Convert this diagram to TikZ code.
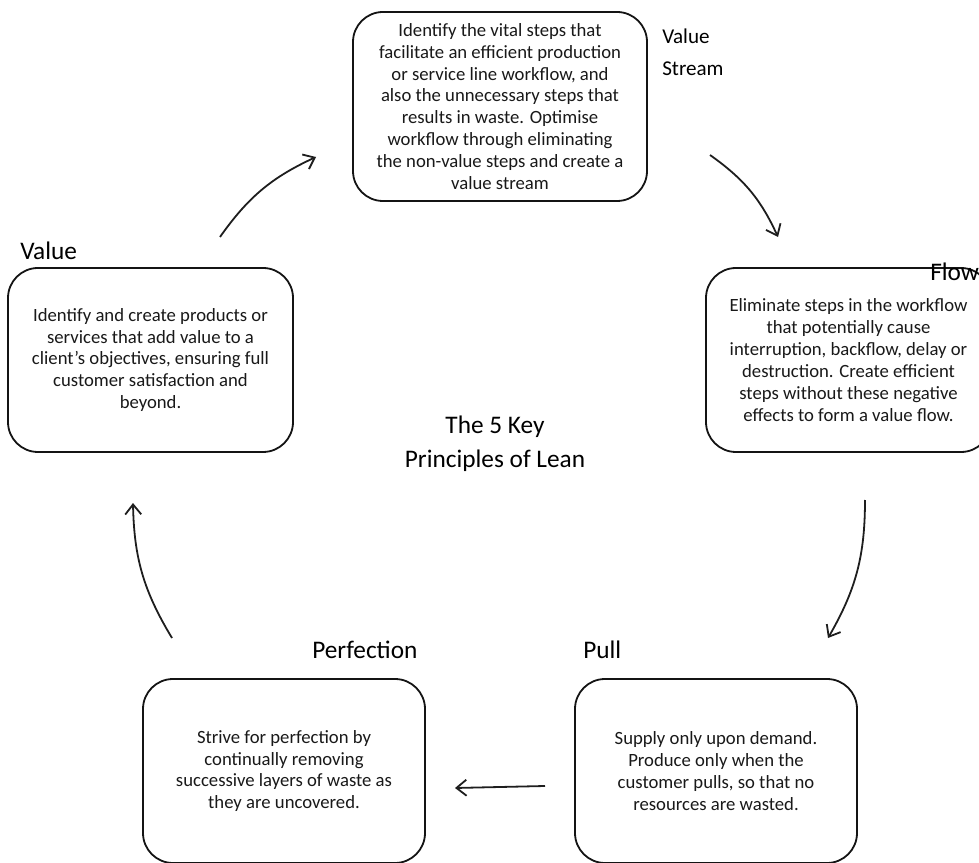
\documentclass[tikz,border=0pt]{standalone}
\usepackage{fontspec}
\setmainfont{Carlito}
\usetikzlibrary{arrows.meta}

\begin{document}
\begin{tikzpicture}
\definecolor{box_line_color}{RGB}{20,20,20}
\definecolor{box_text_color}{RGB}{25,25,25}
\definecolor{arrow_color}{RGB}{30,30,30}

\tikzset{
  principle_box/.style={draw=box_line_color, line width=0.045cm, rounded corners=0.75cm, fill=white,
    align=center, text=box_text_color, font=\fontsize{13.3}{15.6}\selectfont, inner sep=0pt},
  principle_label/.style={anchor=west, inner sep=0pt, text=black, font=\fontsize{18}{24}\selectfont},
  cycle_arrow/.style={draw=arrow_color, line width=0.045cm, -{Straight Barb[length=0.25cm, width=0.4cm]}, bend left=15}
}

\useasboundingbox (0,0) rectangle (24.475,21.55);
\clip (0,0) rectangle (24.475,21.55);

% boxes
\node[principle_box, minimum width=7.35cm, minimum height=4.725cm] (stream) at (12.5,18.8875)
  {Identify the vital steps that\\facilitate an efficient production\\or service line workflow, and\\also the unnecessary steps that\\results in waste. Optimise\\workflow through eliminating\\the non-value steps and create a\\value stream};
\node[principle_box, minimum width=7.125cm, minimum height=4.6cm] (value) at (3.7625,12.55)
  {Identify and create products or\\services that add value to a\\client’s objectives, ensuring full\\customer satisfaction and\\beyond.};
\node[principle_box, minimum width=7.125cm, minimum height=4.6cm] (flow) at (21.2125,12.55)
  {Eliminate steps in the workflow\\that potentially cause\\interruption, backflow, delay or\\destruction. Create efficient\\steps without these negative\\effects to form a value flow.};
\node[principle_box, minimum width=7.05cm, minimum height=4.6cm] (perfection) at (7.1,2.275)
  {Strive for perfection by\\continually removing\\successive layers of waste as\\they are uncovered.};
\node[principle_box, minimum width=7.05cm, minimum height=4.6cm] (pull) at (17.9,2.275)
  {Supply only upon demand.\\Produce only when the\\customer pulls, so that no\\resources are wasted.};

% labels
\node[principle_label, align=left, font=\fontsize{15}{22.5}\selectfont] (stream_label) at (16.55,20.25) {Value\\Stream};
\node[principle_label] (flow_label) at (23.25,14.75) {Flow};
\node[principle_label] (value_label) at (0.5,15.275) {Value};
\node[principle_label] (perfection_label) at (7.8,5.3) {Perfection};
\node[principle_label] (pull_label) at (14.575,5.3) {Pull};
\node[align=center, inner sep=0pt, font=\fontsize{18}{24}\selectfont] (title) at (12.375,10.45) {The 5 Key\\Principles of Lean};

% arrow ends
\coordinate (value_out) at (5.5,15.625);
\coordinate (stream_in) at (7.9,17.625);
\coordinate (stream_out) at (17.75,17.675);
\coordinate (flow_in) at (19.45,15.625);
\coordinate (flow_out) at (21.625,9.05);
\coordinate (pull_in) at (20.7,5.6);
\coordinate (pull_out) at (13.625,1.9);
\coordinate (perfection_in) at (11.375,1.85);
\coordinate (perfection_out) at (4.3,5.6);
\coordinate (value_in) at (3.325,8.975);

\draw[cycle_arrow] (value_out) to (stream_in);
\draw[cycle_arrow] (stream_out) to (flow_in);
\draw[cycle_arrow] (flow_out) to (pull_in);
\draw[cycle_arrow, bend left=0] (pull_out) to (perfection_in);
\draw[cycle_arrow] (perfection_out) to (value_in);

\end{tikzpicture}
\end{document}
